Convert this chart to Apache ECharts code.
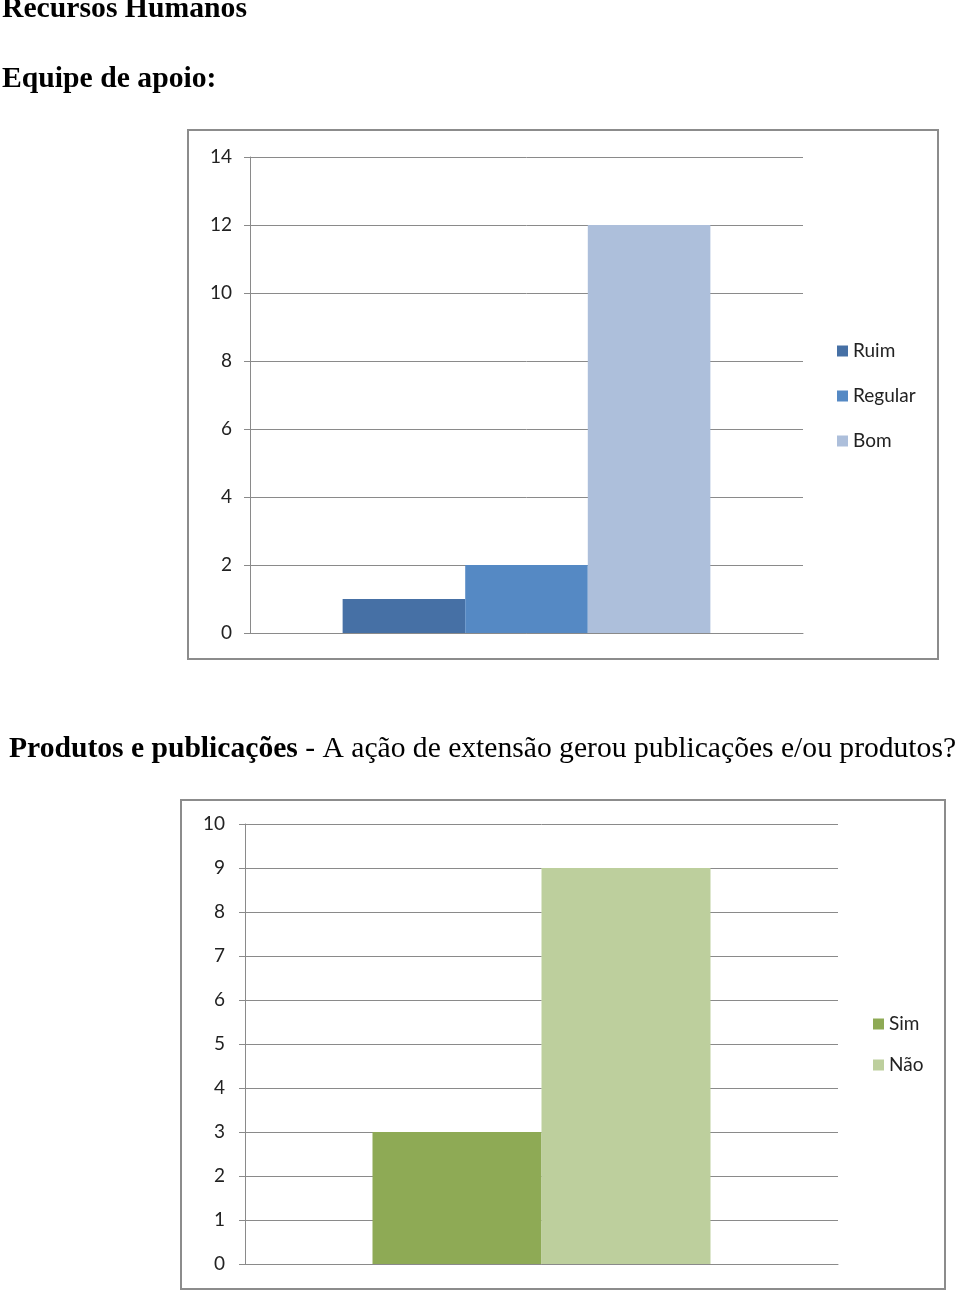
<!DOCTYPE html>
<html><head><meta charset="utf-8">
<script src="https://cdn.jsdelivr.net/npm/echarts@6/dist/echarts.min.js"></script>
<style>html,body{margin:0;padding:0;background:#fff;}#c{width:960px;height:1293px;}</style>
</head><body><div id="c"></div>
<script>
// Chart 1: Equipe de apoio
const apoioCategories = ['Equipe de apoio'];
const apoioSeriesNames = ['Ruim', 'Regular', 'Bom'];
const apoioValues = [1, 2, 12];
const apoioColors = ['#4670a5', '#5589c4', '#adbfdb'];
const apoioTicks = { min: 0, max: 14, interval: 2 };

// Chart 2: Produtos e publicações
const prodCategories = ['Produtos e publicações'];
const prodSeriesNames = ['Sim', 'Não'];
const prodValues = [3, 9];
const prodColors = ['#8eaa55', '#bdcf9d'];
const prodTicks = { min: 0, max: 10, interval: 1 };

const chart = echarts.init(document.getElementById('c'), null, { renderer: 'canvas' });
const labelFont = 'Lato';
const gray = '#8a8a8a';

function yAxis(gridIndex, t, margin) {
  return {
    type: 'value', gridIndex, min: t.min, max: t.max, interval: t.interval,
    axisLine: { show: true, lineStyle: { color: gray, width: 1 } },
    axisTick: { show: true, inside: false, length: 6, lineStyle: { color: gray } },
    splitLine: { show: true, lineStyle: { color: gray, width: 1 } },
    axisLabel: { margin, color: '#222', fontFamily: labelFont, fontSize: 19 }
  };
}
function xAxis(gridIndex, cats) {
  return {
    type: 'category', gridIndex, data: cats,
    axisLine: { show: true, lineStyle: { color: gray } },
    axisTick: { show: false }, axisLabel: { show: false }
  };
}

const series = [];
apoioSeriesNames.forEach((n, i) => series.push({
  type: 'bar', name: n, xAxisIndex: 0, yAxisIndex: 0,
  data: [apoioValues[i]], itemStyle: { color: apoioColors[i] },
  barGap: '0%', barCategoryGap: '33.5%', silent: true
}));
prodSeriesNames.forEach((n, i) => series.push({
  type: 'bar', name: n, xAxisIndex: 1, yAxisIndex: 1,
  data: [prodValues[i]], itemStyle: { color: prodColors[i] },
  barGap: '0%', barCategoryGap: '43%', silent: true
}));

const legendText = { fontFamily: labelFont, fontSize: 19, color: '#222', lineHeight: 20 };

chart.setOption({
  animation: false,
  grid: [
    { left: 250, top: 157, width: 553, height: 476 },
    { left: 245, top: 824, width: 593, height: 440 }
  ],
  xAxis: [xAxis(0, apoioCategories), xAxis(1, prodCategories)],
  yAxis: [yAxis(0, apoioTicks, 18), yAxis(1, prodTicks, 20)],
  legend: [
    { data: apoioSeriesNames, orient: 'vertical', left: 837, top: 341, icon: 'rect',
      itemWidth: 11, itemHeight: 11, itemGap: 25, textStyle: legendText, padding: 0, selectedMode: false },
    { data: prodSeriesNames, orient: 'vertical', left: 873, top: 1014, icon: 'rect',
      itemWidth: 11, itemHeight: 11, itemGap: 21, textStyle: legendText, padding: 0, selectedMode: false }
  ],
  graphic: [
    { type: 'rect', shape: { x: 188, y: 130, width: 750, height: 529 }, style: { fill: null, stroke: '#8c8c8c', lineWidth: 2 }, silent: true },
    { type: 'rect', shape: { x: 181, y: 800, width: 764, height: 489 }, style: { fill: null, stroke: '#8c8c8c', lineWidth: 2 }, silent: true },
    { type: 'text', left: 2, top: -6, style: { text: 'Recursos Humanos', font: 'bold 29.7px "Liberation Serif"', fill: '#000' } },
    { type: 'text', left: 2, top: 64, style: { text: 'Equipe de apoio:', font: 'bold 29.7px "Liberation Serif"', fill: '#000' } },
    { type: 'text', left: 9, top: 734, style: { rich: {
        b: { font: 'bold 29.6px "Liberation Serif"', fill: '#000' },
        n: { font: '29.6px "Liberation Serif"', fill: '#000' }
      }, text: '{b|Produtos e publicações}{n| - A ação de extensão gerou publicações e/ou produtos?}' } }
  ],
  series
});
</script></body></html>
